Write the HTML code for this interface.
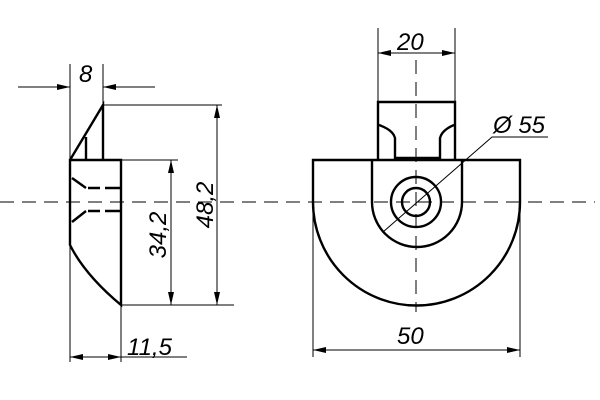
<!DOCTYPE html>
<html><head><style>body{margin:0;background:#fff}svg{display:block}text{font-family:"Liberation Sans",sans-serif;font-style:italic;font-size:24px;fill:#000}</style></head><body>
<svg width="600" height="400" viewBox="0 0 600 400">
<defs><marker id="a" viewBox="0 0 13 6" refX="13" refY="3" markerWidth="13" markerHeight="6" orient="auto-start-reverse" markerUnits="userSpaceOnUse"><path d="M0,0L13,3L0,6z"/></marker></defs>
<g stroke="#000" stroke-width="1" fill="none">
<line x1="0" y1="202" x2="595" y2="202" stroke-dasharray="14,8"/>
<line x1="416" y1="60" x2="416" y2="312" stroke-dasharray="14,8"/>
<line x1="70" y1="64" x2="70" y2="362"/><line x1="103" y1="64" x2="103" y2="105"/>
<line x1="18" y1="87" x2="70" y2="87" marker-end="url(#a)"/><line x1="155" y1="87" x2="103" y2="87" marker-end="url(#a)"/>
<line x1="103" y1="105" x2="222" y2="105"/><line x1="121" y1="305" x2="234" y2="305"/><line x1="121" y1="160" x2="178" y2="160"/>
<line x1="217" y1="105" x2="217" y2="305" marker-start="url(#a)" marker-end="url(#a)"/>
<line x1="171" y1="160" x2="171" y2="305" marker-start="url(#a)" marker-end="url(#a)"/>
<line x1="121" y1="305" x2="121" y2="362"/>
<line x1="70" y1="357" x2="121" y2="357" marker-start="url(#a)" marker-end="url(#a)"/><line x1="121" y1="357" x2="187" y2="357"/>
<line x1="378" y1="28" x2="378" y2="102"/><line x1="455" y1="28" x2="455" y2="102"/>
<line x1="378" y1="53" x2="455" y2="53" marker-start="url(#a)" marker-end="url(#a)"/>
<line x1="313" y1="202" x2="313" y2="357"/><line x1="520" y1="202" x2="520" y2="357"/>
<line x1="313" y1="350" x2="520" y2="350" marker-start="url(#a)" marker-end="url(#a)"/>
<polyline points="383,232 492,137 548,137"/>
</g>
<g stroke="#000" stroke-width="2.4" fill="none">
<path d="M70,160 L103,105 L103,160 M86,137 L86,160 M70,160 L121,160 L121,305 Q85,275 70,245 Z"/>
<path d="M72,178 L86,188 M88,188 L100,188 M105,188 L121,188 M72,222 L86,211 M88,211 L100,211 M105,211 L121,211"/>
<path d="M313,160 L520,160 L520,202 A103.5,103.5 0 0 1 313,202 Z"/>
<path d="M372,160 L372,202 A45,45 0 0 0 462,202 L462,160"/>
<circle cx="416" cy="202" r="25"/><circle cx="416" cy="202" r="14"/>
<path d="M378,160 L378,102 L455,102 L455,160 M379,125 Q393,130 395,138 L395,158 L440,158 L440,138 Q442,130 454,125"/>
</g>
<text x="79" y="82">8</text>
<text x="397" y="50">20</text>
<text x="397" y="344">50</text>
<text x="127" y="355">11,5</text>
<text x="493" y="133">Ø 55</text>
<text transform="translate(213,205) rotate(-90)" text-anchor="middle">48,2</text>
<text transform="translate(166,235) rotate(-90)" text-anchor="middle">34,2</text>
</svg></body></html>
